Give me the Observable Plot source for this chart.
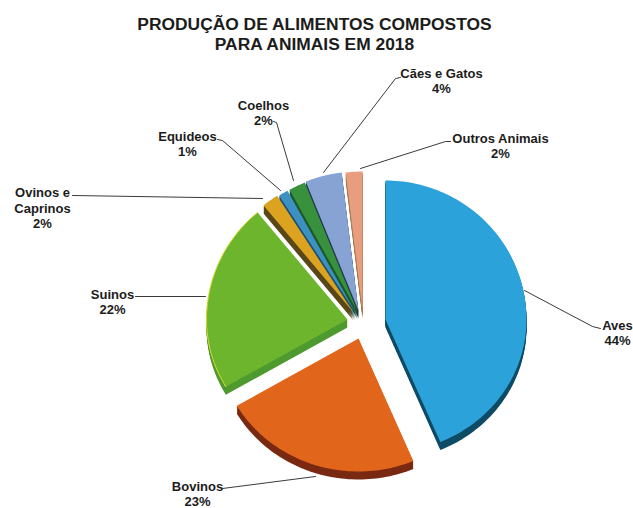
<!DOCTYPE html>
<html>
<head>
<meta charset="utf-8">
<script src="https://cdn.jsdelivr.net/npm/d3@7"></script>
<script src="https://cdn.jsdelivr.net/npm/@observablehq/plot@0.6"></script>
<style>
html,body{margin:0;padding:0;background:#fff;}
#title{width:633px;height:58px;box-sizing:border-box;padding:14px 0 0 0;margin:0;text-align:center;position:relative;left:-2px;
font:bold 17.4px/20px "Liberation Sans",Arial,sans-serif;color:#1c1c1c;}
svg{display:block;}
</style>
</head>
<body>
<div id="title">PRODUÇÃO DE ALIMENTOS COMPOSTOS<br>PARA ANIMAIS EM 2018</div>
<div id="chart"></div>
<script>
// Data
const titles = ["Aves","Bovinos","Suinos","Ovinos e\nCaprinos","Equideos","Coelhos","Cães e Gatos","Outros Animais"];
const shares = [43.6,22.9,22.4,1.9,1.1,1.9,4.2,1.9];

// Styles
const topColors  = ["#2ba2d9","#e2651c","#6cb52c","#dca320","#3c90c2","#38913d","#86a3d4","#e89d7e"];
const sideColors = ["#0f4c66","#7a2a12","#4f9a30","#5a4717","#1d4f6c","#1d5a2a","#26364f","#a5794a"];

// Layout (page pixels): apex of each exploded slice, label centres, leader lines
const apexX = [385,358,347,353,355,357,358,362];
const apexY = [319,338,319,312,312,311,310,310];
const labelX = [617,197,112,42,187,263,441,500];
const labelY = [332,493,301,207,143,112,80,145];
const leaders = [
  [[524,290],[592,326],[600,328]],
  [[222,488],[315,476]],
  [[135,296],[205,296]],
  [[72,195],[262,198]],
  [[217,139],[222,140],[280,190]],
  [[273,121],[276,122],[293,180]],
  [[323,172],[395,78],[400,77]],
  [[360,168],[445,141],[450,141]]
];
const rx = 141, ryUp = 139, ryDown = 133, depth = 8;

const arcs = d3.pie().sort(null).value(d => d)(shares);
const drawOrder = [7,6,5,4,3,2,1,0];

function slicePoints(i, dy) {
  const a = arcs[i], out = [[apexX[i], apexY[i] + dy]];
  const n = Math.max(4, Math.ceil((a.endAngle - a.startAngle) * 40));
  for (let k = 0; k <= n; k++) {
    const t = a.startAngle + (a.endAngle - a.startAngle) * k / n;
    const c = Math.cos(t);
    out.push([apexX[i] + rx * Math.sin(t), apexY[i] - (c > 0 ? ryUp : ryDown) * c + dy]);
  }
  return out;
}

const polys = [];
drawOrder.forEach(i => {
  for (let s = depth; s >= 1; s--) {
    slicePoints(i, s).forEach(p => polys.push({x:p[0], y:p[1], z:`${i}-${s}`, key:titles[i] + " lateral"}));
  }
  slicePoints(i, 0).forEach(p => polys.push({x:p[0], y:p[1], z:`${i}-top`, key:titles[i]}));
});
const rim = slicePoints(2, 0).slice(1).map(p => ({x:p[0], y:p[1]}));

const leaderPts = leaders.flatMap((l, i) => l.map(p => ({x:p[0], y:p[1], z:i})));
const labels = titles.map((t, i) => ({
  x: labelX[i], y: labelY[i],
  text: t + "\n" + Math.round(shares[i]) + "%"
}));

const chart = Plot.plot({
  width: 633, height: 450,
  margin: 0,
  style: {background:"#fff"},
  x: {domain:[0,633], range:[0,633], axis:null},
  y: {domain:[58,508], range:[0,450], axis:null},
  color: {
    domain: titles.concat(titles.map(t => t + " lateral")),
    range: topColors.concat(sideColors)
  },
  marks: [
    Plot.line(leaderPts, {x:"x", y:"y", z:"z", stroke:"#3a3a3a", strokeWidth:1}),
    Plot.line(polys, {x:"x", y:"y", z:"z", fill:"key", stroke:"none", curve:"linear-closed"}),
    Plot.line(rim, {x:"x", y:"y", stroke:"#d8dc30", strokeWidth:1}),
    Plot.text(labels, {x:"x", y:"y", text:"text", textAnchor:"middle", lineHeight:1.2,
      fontSize:13, fontWeight:"bold", fontFamily:"Liberation Sans, Arial, sans-serif", fill:"#1c1c1c"})
  ]
});
document.getElementById("chart").appendChild(chart);
</script>
</body>
</html>
